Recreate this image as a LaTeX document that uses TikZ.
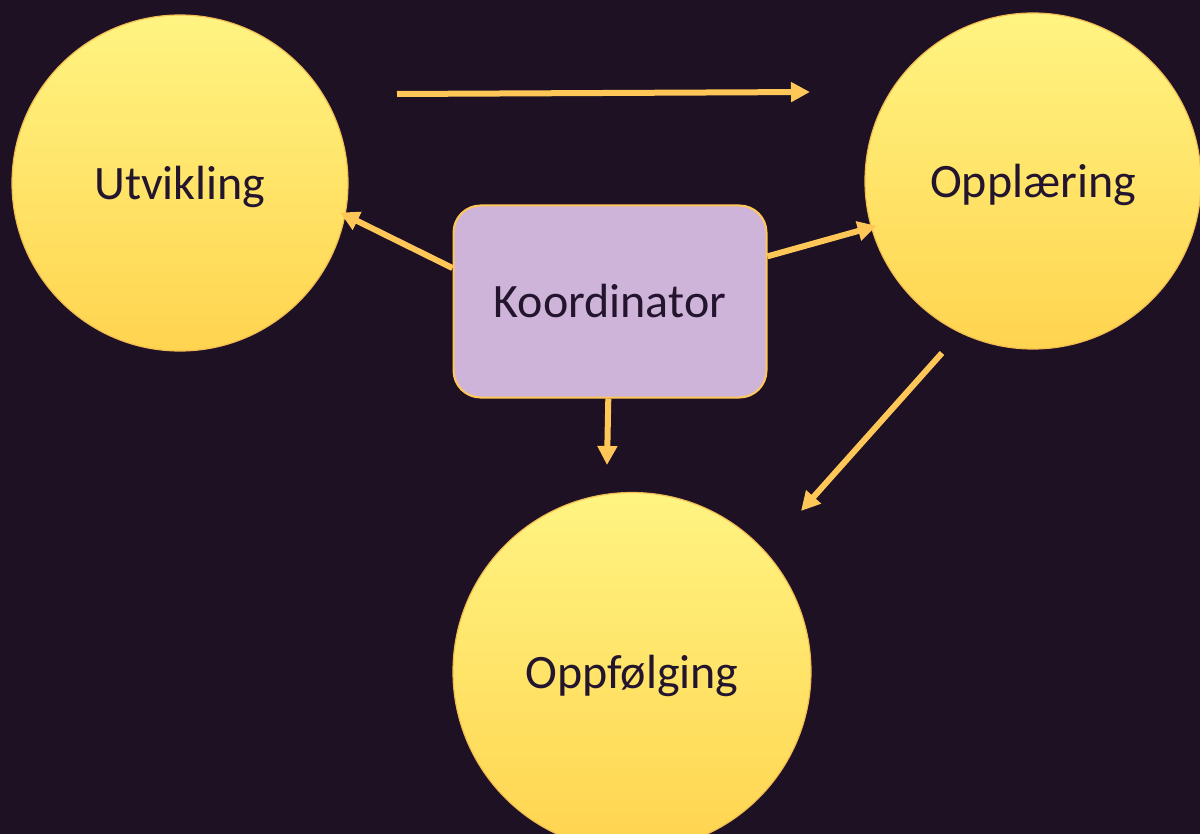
\documentclass[tikz,border=0pt]{standalone}
\usepackage{fontspec}
\setmainfont{Carlito}
\usetikzlibrary{positioning,arrows.meta}
\definecolor{bgdark}{HTML}{1E1124}
\definecolor{sunlight}{HTML}{FFF482}
\definecolor{sundeep}{HTML}{FFD44F}
\definecolor{sunedge}{HTML}{F2BC52}
\definecolor{lilac}{HTML}{CFB4DA}
\definecolor{arrowcol}{HTML}{FFC758}
\definecolor{inkdark}{HTML}{24152F}

\begin{document}
\begin{tikzpicture}[x=1pt,y=1pt,>={Triangle[length=19pt,width=19pt]},on grid,
                main node/.style={circle,draw=sunedge,line width=1.2pt,top color=sunlight,bottom color=sundeep,minimum size=336pt,text=inkdark,text depth=0pt,font=\fontsize{48}{58}\selectfont},
                koord node/.style={rectangle,rounded corners=27pt,draw=arrowcol,line width=2pt,fill=lilac,minimum width=313pt,minimum height=192pt,text=inkdark,font=\fontsize{48}{58}\selectfont}]
                \useasboundingbox (0,0) rectangle (1200,-834);
                \clip (0,0) rectangle (1200,-834);
                \fill[bgdark] (0,0) rectangle (1200,-834);

                \node[koord node] (koord) at (610,-301.5) {Koordinator};
                \node[main node] (utv) [above left=119.5pt and 430pt of koord,yshift=-1pt] {Utvikling};
                \node[main node] (oppl) [above right=120.5pt and 423pt of koord] {Opplæring};
                \node[main node,minimum size=358pt] (oppf) [below=370pt of koord,xshift=22pt] {Oppfølging};

                % free ends
                \coordinate (topstart) at (397,-94);
                \coordinate (topend) at (810,-92);
                \coordinate (downend) at (607,-465);
                \coordinate (diagstart) at (942,-353);
                \coordinate (diagend) at (801,-511);

                \path[every edge/.style={draw=arrowcol,line width=6pt,->}]
                    (topstart) edge (topend)
                    (koord.168) edge [shorten >=-6pt] (utv.-11.5)
                    (koord.16) edge [shorten >=-6pt] (oppl.196)
                    (koord.-91) edge (downend)
                    (diagstart) edge (diagend)
                    ;
            \end{tikzpicture}
\end{document}
